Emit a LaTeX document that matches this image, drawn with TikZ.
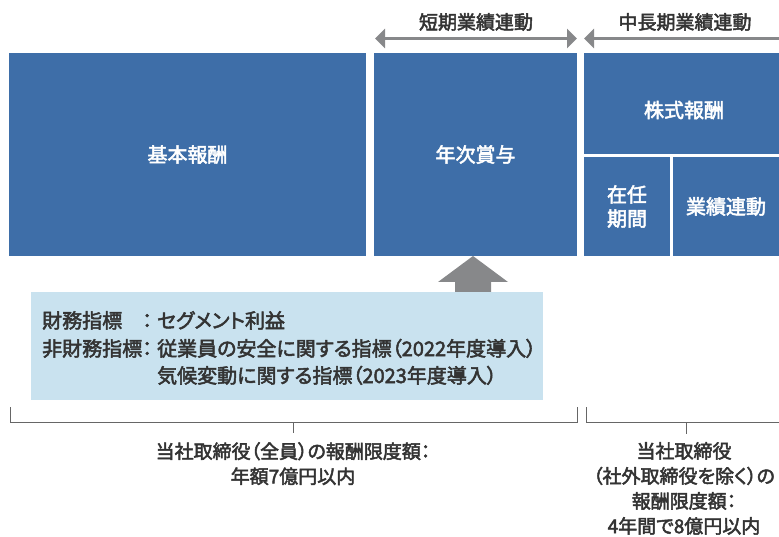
\documentclass[tikz,border=0pt]{standalone}
\usepackage{fontspec}
\setmainfont{Noto Sans CJK JP}[RawFeature=+palt]
\newfontfamily\medfont{Noto Sans CJK JP}[RawFeature=+palt, FakeBold=2.5]
\usetikzlibrary{arrows.meta}
\definecolor{boxblue}{HTML}{3E6EA8}
\definecolor{lightbl}{HTML}{C9E2EF}
\definecolor{arrgray}{HTML}{87888A}
\definecolor{txt}{HTML}{333333}
\definecolor{brk}{HTML}{666666}
\tikzset{
  bbox/.style={fill=boxblue, text=white, inner sep=0pt, outer sep=0pt, font=\medfont\fontsize{20}{24}\selectfont, align=center},
  hdr/.style={text=txt, inner sep=0pt, font=\medfont\fontsize{19}{23}\selectfont},
  harrow/.style={draw=arrgray, line width=2.5pt, {Triangle[length=10pt,width=19pt]}-{Triangle[length=10pt,width=19pt]}},
  ltxt/.style={text=txt, inner sep=0pt, anchor=base west, font=\medfont\fontsize{20}{24}\selectfont},
  btxt/.style={text=txt, inner sep=0pt, align=center, font=\medfont\fontsize{19}{25}\selectfont},
  brkline/.style={draw=brk, line width=0.8pt},
}
\begin{document}
\begin{tikzpicture}[x=1pt,y=-1pt]
\useasboundingbox (0,0) rectangle (779,537);
% boxes
\node[bbox, minimum width=357pt, minimum height=203pt] (kihon) at (187.5,154.5) {基本報酬};
\node[bbox, minimum width=203pt, minimum height=203pt] (nenji) at (475.5,154.5) {年次賞与};
\node[bbox, minimum width=195pt, minimum height=101pt] (kabu) at (681.5,103.5) {};
\node[text=white, inner sep=0pt, font=\medfont\fontsize{20}{24}\selectfont] (kabut) at (684,110) {株式報酬};
\node[bbox, minimum width=86pt, minimum height=99pt] (zainin) at (627,206.5) {在任\\期間};
\node[bbox, minimum width=106pt, minimum height=99pt] (gyoseki) at (726,206.5) {業績連動};
% header arrows
\coordinate (a1l) at (375,38.5);
\coordinate (a1r) at (577,38.5);
\coordinate (a2l) at (584,38.5);
\coordinate (a2r) at (789,38.5);
\draw[harrow] (a1l) -- (a1r);
\draw[harrow] (a2l) -- (a2r);
\node[hdr] (h1) at (476,22) {短期業績連動};
\node[hdr] (h2) at (685,22) {中長期業績連動};
% up arrow
\fill[arrgray] (455,294) -- (455,282) -- (438,282) -- (473,256) -- (508,282) -- (491,282) -- (491,294) -- cycle;
% light box
\node[fill=lightbl, minimum width=512pt, minimum height=108pt, inner sep=0pt, outer sep=0pt] (kpi) at (287,346) {};
\node[ltxt] (l1a) at (42,328) {財務指標};
\node[ltxt] (l1b) at (142,328) {：};
\node[ltxt] (l1c) at (157,328) {セグメント利益};
\node[ltxt] (l2a) at (42,356) {非財務指標：};
\node[ltxt] (l2c) at (157,356) {従業員の安全に関する指標（2022年度導入）};
\node[ltxt] (l3c) at (157,383) {気候変動に関する指標（2023年度導入）};
% brackets
\coordinate (b1a) at (10,407);
\coordinate (b1b) at (10,422);
\coordinate (b1c) at (577,422);
\coordinate (b1d) at (577,407);
\coordinate (b1m) at (293,422);
\coordinate (b1t) at (293,433);
\draw[brkline] (b1a) -- (b1b) -- (b1c) -- (b1d);
\draw[brkline] (b1m) -- (b1t);
\coordinate (b2a) at (586,407);
\coordinate (b2b) at (586,422);
\coordinate (b2c) at (779,422);
\coordinate (b2m) at (686,422);
\coordinate (b2t) at (686,434);
\draw[brkline] (b2a) -- (b2b) -- (b2c);
\draw[brkline] (b2m) -- (b2t);
\node[btxt, anchor=north] (t1) at (293,442) {当社取締役（全員）の報酬限度額：\\年額7億円以内};
\node[btxt, anchor=north] (t2) at (684,442) {当社取締役\\（社外取締役を除く）の\\報酬限度額：\\4年間で8億円以内};
\end{tikzpicture}
\end{document}
